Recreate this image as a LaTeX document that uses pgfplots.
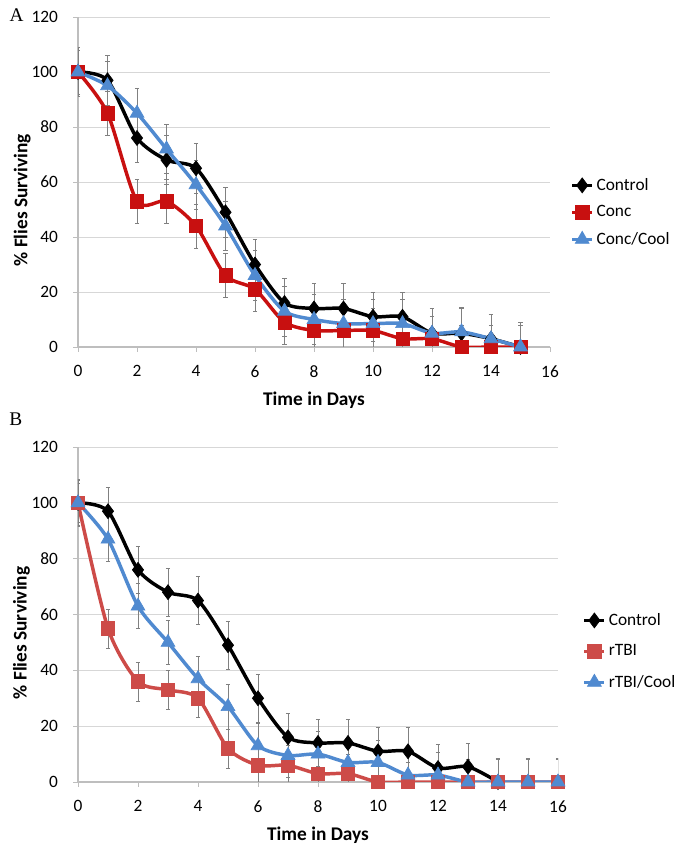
\documentclass[border=0pt]{standalone}
\usepackage{pgfplots}
\pgfplotsset{compat=1.18}
\usepackage{fontspec}
\setmainfont{Carlito}
\newfontfamily\serifL{Liberation Serif}
\definecolor{cblack}{RGB}{0,0,0}
\definecolor{credA}{RGB}{200,16,16}
\definecolor{credB}{RGB}{205,75,72}
\definecolor{cblue}{RGB}{80,138,208}
\definecolor{cgrid}{RGB}{215,215,215}
\definecolor{caxis}{RGB}{190,190,190}

\pgfplotsset{
  panel/.style={
    scale only axis,
    xmin=0, xmax=16, ymin=0, ymax=120,
    xtick={0,2,...,16}, ytick={0,20,...,120},
    axis lines*=left,
    axis line style={-, draw=caxis, line width=0.8pt},
    tick align=outside,
    major tick length=3.5pt,
    tick style={draw=caxis, line width=0.6pt},
    ymajorgrids,
    grid style={draw=cgrid, line width=0.7pt},
    tick label style={font=\fontsize{13}{15}\selectfont},
    yticklabel style={xshift=-8pt},
    xticklabel style={yshift=-7pt},
    /pgf/number format/assume math mode=true,
    xlabel={\textbf{Time in Days}},
    ylabel={\textbf{\% Flies Surviving}},
    label style={font=\fontsize{14.5}{16}\selectfont},
    ylabel style={at={(axis description cs:-0.118,0.445)}, anchor=center},
    xlabel style={at={(axis description cs:0.5,0)}, anchor=center, yshift=-40pt},
    legend cell align=left,
    legend style={draw=none, fill=none, font=\fontsize{13}{15}\selectfont, anchor=west, inner sep=1pt},
    legend image code/.code={\draw[mark repeat=2,mark phase=2] plot coordinates {(0pt,0pt)(7.5pt,0pt)(15pt,0pt)};},
    error bars/y dir=both,
    error bars/y explicit,
    error bars/error bar style={draw=gray, line width=0.5pt, solid},
    error bars/error mark options={rotate=90, draw=gray, mark size=1.6pt, line width=0.5pt},
  },
  sA/.style={draw=cblack, line width=2.6pt, smooth, tension=0.45, mark=diamond*, mark size=5.6pt, mark options={fill=cblack, draw=cblack, solid, line width=0.5pt}},
  sB/.style={draw=#1, line width=2.6pt, smooth, tension=0.45, mark=square*, mark size=5pt, mark options={fill=#1, draw=#1, solid, line width=0.5pt}},
  sC/.style={draw=cblue, line width=2.6pt, smooth, tension=0.45, mark=triangle*, mark size=6pt, mark options={fill=cblue, draw=cblue, solid, line width=0.5pt}},
}

\pgfplotstableread{
x y e
0 100 9
1 97 9
2 76 9
3 68 9
4 65 9
5 49 9
6 30 9
7 16 9
8 14 9
9 14 9
10 11 9
11 11 9
12 5 9
13 5 9
14 3 9
15 0 9
}\ctrlA
\pgfplotstableread{
x y e
0 100 8
1 85 8
2 53 8
3 53 8
4 44 8
5 26 8
6 21 8
7 9 8
8 6 8
9 6 8
10 6 8
11 3 8
12 3 8
13 0 8
14 0 8
15 0 8
}\concA
\pgfplotstableread{
x y e
0 100 9
1 95 9
2 85 9
3 72 9
4 59 9
5 44 9
6 26 9
7 13 9
8 10 9
9 8.5 9
10 8.5 9
11 8.5 9
12 5 9
13 5.5 9
14 3 9
15 0 9
}\coolA
\pgfplotstableread{
x y e
0 100 8.5
1 97 8.5
2 76 8.5
3 68 8.5
4 65 8.5
5 49 8.5
6 30 8.5
7 16 8.5
8 14 8.5
9 14 8.5
10 11 8.5
11 11 8.5
12 5 8.5
13 5.5 8.5
14 0 8.5
}\ctrlB
\pgfplotstableread{
x y e
0 100 7
1 55 7
2 36 7
3 33 7
4 30 7
5 12 7
6 6 7
7 6 7
8 3 7
9 3 7
10 0 7
11 0 7
12 0 7
13 0 7
14 0 8
15 0 8
16 0 8
}\tbiB
\pgfplotstableread{
x y e
0 100 8
1 87 8
2 63 8
3 50 8
4 37 8
5 27 8
6 13 8
7 9.5 8
8 10 8
9 7 8
10 7 8
11 2.5 8
12 2.5 8
13 0 8
14 0 8.5
15 0 8.5
16 0 8.5
}\coolB

\begin{document}
\begin{tikzpicture}
\path[use as bounding box] (0,0) rectangle (510pt,641.25pt);

\node[font=\serifL\fontsize{14.5}{15}\selectfont] at (12.4pt,629.6pt) {A};
\node[font=\serifL\fontsize{14.5}{15}\selectfont] at (11.8pt,327pt) {B};

\begin{axis}[panel, at={(58.5pt,381pt)}, anchor=south west, width=354pt, height=247.5pt,
  legend style={at={(axis description cs:1.04,0.408)}, /tikz/row sep=6pt}]
\addplot+[sA] table[x=x,y=y,y error=e] {\ctrlA};
\addlegendentry{Control}
\addplot+[sB=credA] table[x=x,y=y,y error=e] {\concA};
\addlegendentry{Conc}
\addplot+[sC] table[x=x,y=y,y error=e] {\coolA};
\addlegendentry{Conc/Cool}
\end{axis}

\begin{axis}[panel, at={(58.5pt,54.75pt)}, anchor=south west, width=360pt, height=251.25pt,
  legend style={at={(axis description cs:1.048,0.39)}, /tikz/row sep=9pt}]
\addplot+[sA] table[x=x,y=y,y error=e] {\ctrlB};
\addlegendentry{Control}
\addplot+[sB=credB] table[x=x,y=y,y error=e] {\tbiB};
\addlegendentry{rTBI}
\addplot+[sC] table[x=x,y=y,y error=e] {\coolB};
\addlegendentry{rTBI/Cool}
\end{axis}
\end{tikzpicture}
\end{document}
